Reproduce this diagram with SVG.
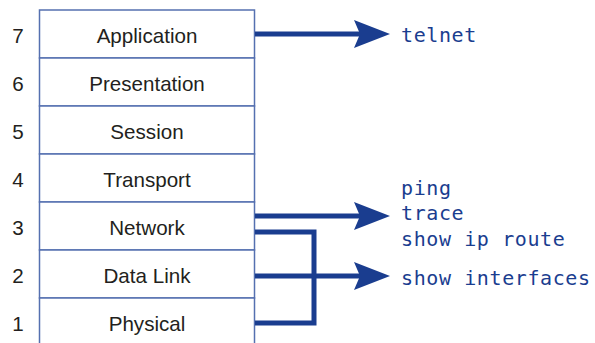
<svg xmlns="http://www.w3.org/2000/svg" width="595" height="343" viewBox="0 0 595 343">
<style>
.box{fill:#fff;stroke:#5570b0;stroke-width:1.5}
.lbl{font-family:"Liberation Sans",Arial,sans-serif;font-size:20.6px;fill:#231f20;text-anchor:middle}
.num{font-family:"Liberation Sans",Arial,sans-serif;font-size:20.6px;fill:#231f20;text-anchor:middle}
.cmd{font-family:"DejaVu Sans Mono",monospace;font-size:20px;fill:#1a3d8f;letter-spacing:0.6px}
.ln{fill:none;stroke:#1a3d8f;stroke-width:5}
.ah{fill:#1a3d8f}
</style>
<g id="layer7"><rect class="box" x="39.5" y="10" width="215" height="48"/><text class="num" x="18" y="43">7</text><text class="lbl" x="147" y="43">Application</text></g>
<g id="layer6"><rect class="box" x="39.5" y="58" width="215" height="48"/><text class="num" x="18" y="91">6</text><text class="lbl" x="147" y="91">Presentation</text></g>
<g id="layer5"><rect class="box" x="39.5" y="106" width="215" height="48"/><text class="num" x="18" y="139">5</text><text class="lbl" x="147" y="139">Session</text></g>
<g id="layer4"><rect class="box" x="39.5" y="154" width="215" height="48"/><text class="num" x="18" y="187">4</text><text class="lbl" x="147" y="187">Transport</text></g>
<g id="layer3"><rect class="box" x="39.5" y="202" width="215" height="48"/><text class="num" x="18" y="235">3</text><text class="lbl" x="147" y="235">Network</text></g>
<g id="layer2"><rect class="box" x="39.5" y="250" width="215" height="48"/><text class="num" x="18" y="283">2</text><text class="lbl" x="147" y="283">Data Link</text></g>
<g id="layer1"><rect class="box" x="39.5" y="298" width="215" height="48"/><text class="num" x="18" y="331">1</text><text class="lbl" x="147" y="331">Physical</text></g>
<g id="commands">
<text class="cmd" x="401" y="42">telnet</text>
<text class="cmd" x="401" y="195">ping</text>
<text class="cmd" x="401" y="220">trace</text>
<text class="cmd" x="401" y="246">show ip route</text>
<text class="cmd" x="401" y="285">show interfaces</text>
</g>
<g id="connectors">
<path class="ln" d="M255 34H360"/>
<path class="ah" d="M354 20L390 34L354 48L360 34Z"/>
<path class="ln" d="M255 216H360"/>
<path class="ah" d="M354 202L390 216L354 230L360 216Z"/>
<path class="ln" d="M255 276H360"/>
<path class="ah" d="M354 262L390 276L354 290L360 276Z"/>
<path class="ln" d="M255 232H314V323H255"/>
</g>
</svg>
